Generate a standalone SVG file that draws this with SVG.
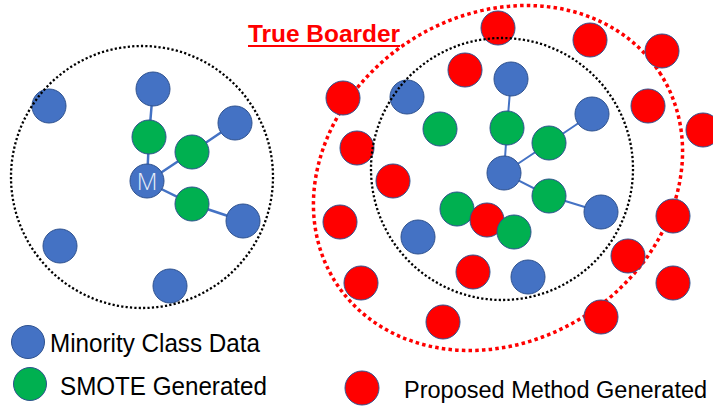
<svg xmlns="http://www.w3.org/2000/svg" width="713" height="406" viewBox="0 0 713 406">
<style>
.n{stroke:#2F528F;stroke-width:1}
.b{fill:#4472C4}
.g{fill:#00B050}
.r{fill:#FF0000}
.lk{stroke:#4472C4;fill:none}
.bd{fill:none;stroke:#000;stroke-width:2.3;stroke-dasharray:2.2 2.2}
.rd{fill:none;stroke:#FF0000;stroke-width:3.5;stroke-dasharray:3.5 3.2}
.lt{font-family:"Liberation Sans",Arial,sans-serif;font-size:25px;fill:#000}
</style>
<rect width="713" height="406" fill="#fff"/>
<ellipse id="true-border" class="rd" cx="498" cy="178" rx="193" ry="163" transform="rotate(-33.1 498 178)"/>
<g id="connectors">
<g class="lk" stroke-width="2.5">
<polyline points="153,89 149,137 147,182"/>
<polyline points="147,182 192,152 235,123"/>
<polyline points="147,182 192,204 243,221"/>
</g>
<g class="lk" stroke-width="2">
<polyline points="511,79 507,128 504,173"/>
<polyline points="504,173 549,143 592,114"/>
<polyline points="504,173 549,196 601,212"/>
</g>
</g>
<g id="left-nodes">
<g id="L-b1"><circle class="n b" cx="49" cy="106" r="17"/></g>
<g id="L-b2"><circle class="n b" cx="153" cy="89" r="17"/></g>
<g id="L-g1"><circle class="n g" cx="149" cy="137" r="17"/></g>
<g id="L-g2"><circle class="n g" cx="192" cy="152" r="17"/></g>
<g id="L-b3"><circle class="n b" cx="235" cy="123" r="17"/></g>
<g id="L-M"><circle class="n b" cx="147" cy="181" r="17"/><text x="147" y="189.5" text-anchor="middle" font-family="'Open Sans','Liberation Sans',sans-serif" font-weight="300" font-size="24" fill="#E8EEF8">M</text></g>
<g id="L-g3"><circle class="n g" cx="192" cy="204" r="17"/></g>
<g id="L-b4"><circle class="n b" cx="243" cy="221" r="17"/></g>
<g id="L-b5"><circle class="n b" cx="60" cy="246" r="17"/></g>
<g id="L-b6"><circle class="n b" cx="170" cy="286" r="17"/></g>
</g>
<g id="right-nodes">
<g id="R-r1"><circle class="n r" cx="498" cy="28" r="17"/></g>
<g id="R-r2"><circle class="n r" cx="590" cy="40" r="17"/></g>
<g id="R-r3"><circle class="n r" cx="662" cy="51" r="17"/></g>
<g id="R-r4"><circle class="n r" cx="465" cy="70" r="17"/></g>
<g id="R-r5"><circle class="n r" cx="343" cy="98" r="17"/></g>
<g id="R-r6"><circle class="n r" cx="648" cy="106" r="17"/></g>
<g id="R-r7"><circle class="n r" cx="703" cy="130" r="17"/></g>
<g id="R-r8"><circle class="n r" cx="357" cy="148" r="17"/></g>
<g id="R-r9"><circle class="n r" cx="393" cy="181" r="17"/></g>
<g id="R-r10"><circle class="n r" cx="340" cy="222" r="17"/></g>
<g id="R-r11"><circle class="n r" cx="673" cy="216" r="17"/></g>
<g id="R-r12"><circle class="n r" cx="628" cy="256" r="17"/></g>
<g id="R-r13"><circle class="n r" cx="361" cy="283" r="17"/></g>
<g id="R-r14"><circle class="n r" cx="473" cy="272" r="17"/></g>
<g id="R-r15"><circle class="n r" cx="673" cy="283" r="17"/></g>
<g id="R-r16"><circle class="n r" cx="443" cy="322" r="17"/></g>
<g id="R-r17"><circle class="n r" cx="601" cy="317" r="17"/></g>
<g id="R-b1"><circle class="n b" cx="407" cy="97" r="17"/></g>
<g id="R-b2"><circle class="n b" cx="511" cy="79" r="17"/></g>
<g id="R-b3"><circle class="n b" cx="592" cy="114" r="17"/></g>
<g id="R-b4"><circle class="n b" cx="504" cy="173" r="17"/></g>
<g id="R-b5"><circle class="n b" cx="601" cy="212" r="17"/></g>
<g id="R-b6"><circle class="n b" cx="418" cy="237" r="17"/></g>
<g id="R-b7"><circle class="n b" cx="528" cy="277" r="17"/></g>
<g id="R-g1"><circle class="n g" cx="440" cy="129" r="17"/></g>
<g id="R-g2"><circle class="n g" cx="507" cy="128" r="17"/></g>
<g id="R-g3"><circle class="n g" cx="549" cy="143" r="17"/></g>
<g id="R-g4"><circle class="n g" cx="549" cy="196" r="17"/></g>
<g id="R-g5"><circle class="n g" cx="457" cy="209" r="17"/></g>
<g id="R-r18"><circle class="n r" cx="487" cy="220" r="17"/></g>
<g id="R-g6"><circle class="n g" cx="514" cy="232" r="17"/></g>
</g>
<circle id="left-region" class="bd" cx="142" cy="177" r="131"/>
<circle id="right-region" class="bd" cx="502" cy="169" r="131"/>
<g id="title">
<text x="248" y="42" font-family="'Liberation Sans',Arial,sans-serif" font-weight="bold" font-size="24" fill="#FF0000" textLength="152" lengthAdjust="spacingAndGlyphs">True Boarder</text>
<line x1="248" y1="46" x2="400" y2="46" stroke="#FF0000" stroke-width="2"/>
</g>
<g id="legend">
<g id="legend-minority"><circle class="n b" cx="28" cy="342" r="16.5"/><text class="lt" x="50" y="352" textLength="210" lengthAdjust="spacingAndGlyphs">Minority Class Data</text></g>
<g id="legend-smote"><circle class="n g" cx="30" cy="384" r="16.5"/><text class="lt" x="60" y="395" textLength="207" lengthAdjust="spacingAndGlyphs">SMOTE Generated</text></g>
<g id="legend-proposed"><circle class="n r" cx="362" cy="388" r="17"/><text class="lt" x="404" y="398" style="font-size:23.5px">Proposed Method Generated</text></g>
</g>
</svg>
